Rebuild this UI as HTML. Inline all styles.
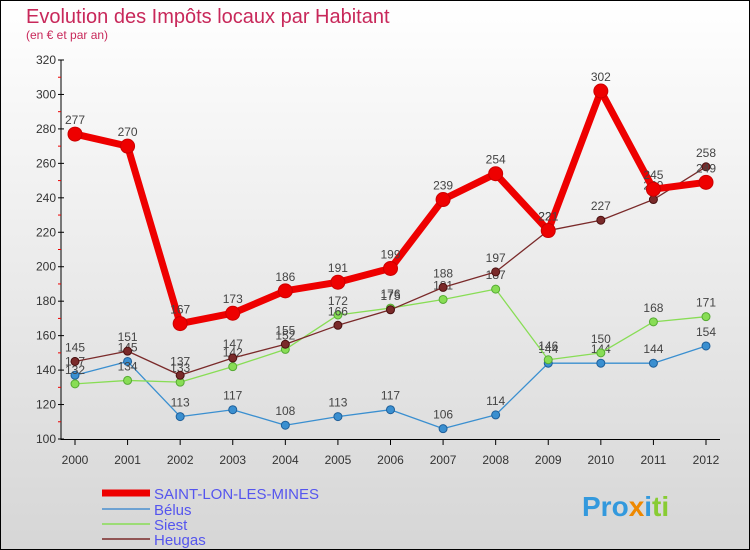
<!DOCTYPE html>
<html><head><meta charset="utf-8"><style>
body{margin:0;width:750px;height:550px;overflow:hidden;font-family:"Liberation Sans",sans-serif}
svg{display:block}
</style></head><body>
<svg id="c" width="750" height="550" xmlns="http://www.w3.org/2000/svg">
<defs><linearGradient id="bg" x1="0" y1="0" x2="0" y2="1"><stop offset="0" stop-color="#ffffff"/><stop offset="1" stop-color="#d6d6d6"/></linearGradient></defs>
<rect x="0.5" y="0.5" width="749" height="549" fill="url(#bg)" stroke="#000"/>
<text x="26" y="23" font-size="20" fill="#c8285a">Evolution des Impôts locaux par Habitant</text>
<text x="26" y="39" font-size="12" fill="#c8285a">(en € et par an)</text>
<g id="axes"></g><g id="series"></g>
<g>
<line x1="102" y1="493" x2="150" y2="493" stroke="#ee0000" stroke-width="7"/>
<text x="154" y="499" font-size="15" fill="#5555ee">SAINT-LON-LES-MINES</text>
<line x1="102" y1="509" x2="150" y2="509" stroke="#4a90d0" stroke-width="1.5"/>
<text x="154" y="515" font-size="15" fill="#5555ee">Bélus</text>
<line x1="102" y1="524" x2="150" y2="524" stroke="#88dd55" stroke-width="1.5"/>
<text x="154" y="530" font-size="15" fill="#5555ee">Siest</text>
<line x1="102" y1="539" x2="150" y2="539" stroke="#7a2a2a" stroke-width="1.5"/>
<text x="154" y="545" font-size="15" fill="#5555ee">Heugas</text>
</g>
<text x="582" y="516" font-size="28" font-weight="bold" fill="#3399dd">Pro<tspan fill="#ee8800">x</tspan><tspan fill="#3399dd">i</tspan><tspan fill="#88cc33">ti</tspan></text>
</svg>
<script>
const years=["2000","2001","2002","2003","2004","2005","2006","2007","2008","2009","2010","2011","2012"];
const yTicks=[100,120,140,160,180,200,220,240,260,280,300,320];
const saintLon=[277,270,167,173,186,191,199,239,254,221,302,245,249];
const belus=[137,145,113,117,108,113,117,106,114,144,144,144,154];
const siest=[132,134,133,142,152,172,176,181,187,146,150,168,171];
const heugas=[145,151,137,147,155,166,175,188,197,221,227,239,258];
const NS="http://www.w3.org/2000/svg";
const x0=75,x1=706,yTop=60,yBot=439,vMin=100,vMax=320;
const X=i=>x0+i*(x1-x0)/(years.length-1);
const Y=v=>yBot-(v-vMin)*(yBot-yTop)/(vMax-vMin);
function mk(t,a,p){const e=document.createElementNS(NS,t);for(const k in a)e.setAttribute(k,a[k]);p.appendChild(e);return e;}
const ax=document.getElementById('axes');
let l=mk('line',{x1:61,y1:yTop,x2:61,y2:yBot+1,stroke:'#000'},ax);


l=mk('line',{x1:61,y1:yBot+0.5,x2:720,y2:yBot+0.5,stroke:'#000'},ax);


yTicks.forEach((v,i)=>{
 const y=Y(v);
 mk('line',{x1:58,y1:y,x2:64,y2:y,stroke:'#000'},ax);
 if(i<yTicks.length-1) mk('line',{x1:58,y1:Y(v+10),x2:61,y2:Y(v+10),stroke:'#e00'},ax);
 const t=mk('text',{x:56,y:y+4,'font-size':12,fill:'#333','text-anchor':'end'},ax);
 t.textContent=v;
 
 
});
years.forEach((yr,i)=>{
 mk('line',{x1:X(i),y1:yBot,x2:X(i),y2:yBot+6,stroke:'#000'},ax);
 const t=mk('text',{x:X(i),y:yBot+25,'font-size':12,fill:'#333','text-anchor':'middle'},ax);
 t.textContent=yr;
 
 
});
const sg=document.getElementById('series');
function draw(vals,color,dark,w,r,name){
 const g=mk('g',{},sg);
 
 
 const p=mk('polyline',{points:vals.map((v,i)=>X(i)+','+Y(v)).join(' '),fill:'none',stroke:color,'stroke-width':w,'stroke-linejoin':'round'},g);
 
 
 vals.forEach((v,i)=>{
  const c=mk('circle',{cx:X(i),cy:Y(v),r:r,fill:color,stroke:dark,'stroke-width':1},g);
  
  
  const t=mk('text',{x:X(i),y:Y(v)-10,'font-size':12,fill:'#444','text-anchor':'middle'},g);
  t.textContent=v;
  
  
 });
}
draw(belus,'#3a8fd0','#1f5f99',1.3,4,'belus');
draw(siest,'#88dd55','#55aa33',1.3,4,'siest');
draw(heugas,'#7a2a2a','#4a1010',1.3,4,'heugas');
draw(saintLon,'#ee0000','#cc0000',7,7,'saint-lon');
</script>
</body></html>
